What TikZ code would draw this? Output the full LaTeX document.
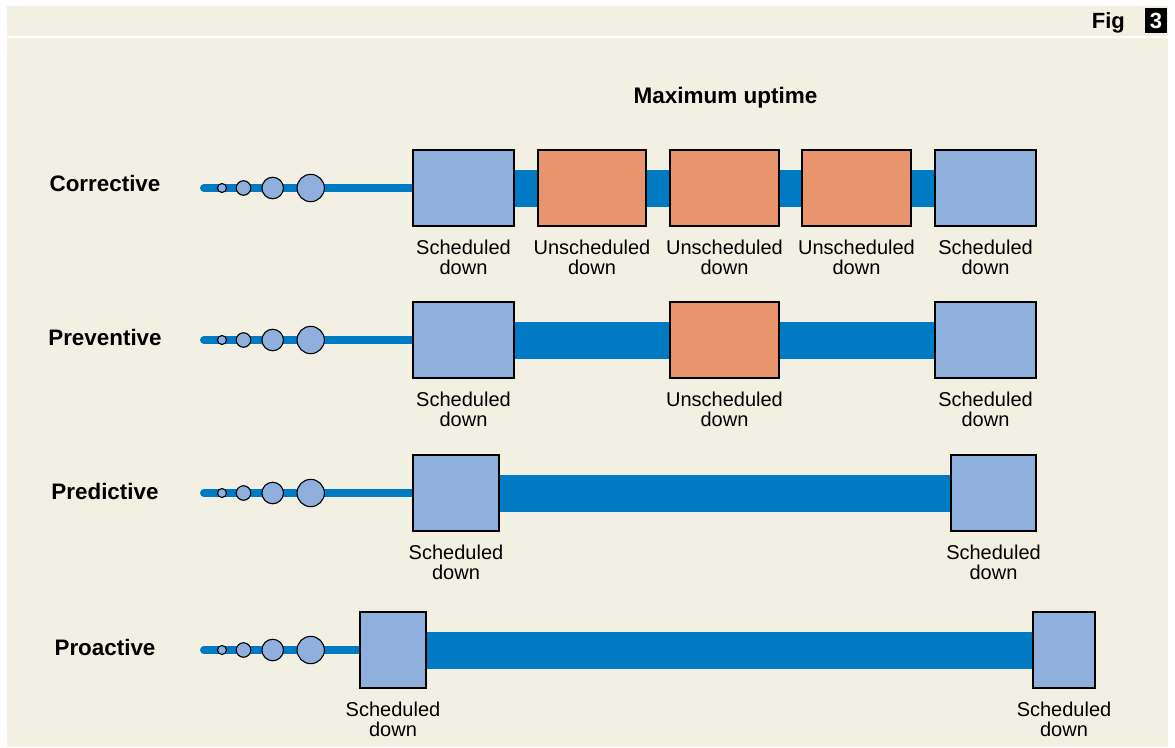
\documentclass[tikz,border=0pt]{standalone}
\usepackage{fontspec}
\setmainfont{Liberation Sans}
\pgfdeclarelayer{back}
\pgfdeclarelayer{bg}
\pgfsetlayers{back,bg,main}
\definecolor{cream}{HTML}{F2EFE3}
\definecolor{barblue}{HTML}{007AC3}
\definecolor{boxblue}{HTML}{8FAFDC}
\definecolor{boxorange}{HTML}{E8956E}
\tikzset{
  sched/.style={draw=black, line width=1.2pt, fill=boxblue, inner sep=0pt, outer sep=0pt, rectangle},
  unsched/.style={draw=black, line width=1.2pt, fill=boxorange, inner sep=0pt, outer sep=0pt, rectangle},
  bub/.style={circle, draw=black, line width=1.1pt, fill=boxblue, inner sep=0pt},
  thinbar/.style={draw=barblue, line width=8pt, line cap=round},
  thickbar/.style={draw=barblue, line width=37pt, line cap=butt},
  lbl/.style={font=\fontsize{20}{20}\selectfont, align=center, anchor=north, inner sep=0pt, text=black},
  rowlbl/.style={font=\bfseries\fontsize{22.4}{24}\selectfont, anchor=base, inner sep=0pt},
}
\newcommand\downbox[6]{%
  \node[#2, minimum width={#4-#3}, minimum height=76] (#1) at ({(#3+#4)/2},#5) {};
  \node[lbl] (#1l) at ([yshift=-14pt]#1.south) {#6};
}
\newcommand\bubbles[2]{%
  \coordinate (#1s) at (204,#2);
  \node[bub, minimum size=9] (#1b1) at (222,#2) {};
  \node[bub, minimum size=14.5] (#1b2) at (243.5,#2) {};
  \node[bub, minimum size=21.5] (#1b3) at (272.7,#2) {};
  \node[bub, minimum size=27.3] (#1b4) at (310.7,#2) {};
}
\begin{document}
\begin{tikzpicture}[x=1pt,y=-1pt]
\useasboundingbox (0,0) rectangle (1175,747);
\begin{pgfonlayer}{back}
  \fill[white] (0,0) rectangle (1175,747);
  \fill[cream] (7,6) rectangle (1168,747);
  \draw[white, line width=2pt] (7,37) -- (1168,37);
\end{pgfonlayer}
% header
\node[font=\bfseries\fontsize{22}{24}\selectfont, anchor=base east, inner sep=0pt] (fig) at (1125,28.5) {Fig};
\node[fill=black, minimum width=22, minimum height=25, inner sep=0pt, text=white, font=\bfseries\fontsize{22}{24}\selectfont] (fignum) at (1156,20.5) {3};
\node[font=\bfseries\fontsize{22.5}{24}\selectfont, anchor=base, inner sep=0pt] (title) at (725.5,103.5) {Maximum uptime};

% Row 1: Corrective
\node[rowlbl] (l1) at (105,191.5) {Corrective};
\bubbles{r1}{188}
\downbox{r1a}{sched}{413}{514}{188}{Scheduled\\down}
\downbox{r1b}{unsched}{538}{646}{188}{Unscheduled\\down}
\downbox{r1c}{unsched}{670}{779}{188}{Unscheduled\\down}
\downbox{r1d}{unsched}{802}{911}{188}{Unscheduled\\down}
\downbox{r1e}{sched}{935}{1036}{188}{Scheduled\\down}
\begin{pgfonlayer}{bg}
  \draw[thinbar] (r1s) -- (r1a.west);
  \draw[thickbar] (r1a.east) -- (r1b.west);
  \draw[thickbar] (r1b.east) -- (r1c.west);
  \draw[thickbar] (r1c.east) -- (r1d.west);
  \draw[thickbar] (r1d.east) -- (r1e.west);
\end{pgfonlayer}

% Row 2: Preventive
\node[rowlbl] (l2) at (105,345.5) {Preventive};
\bubbles{r2}{340}
\downbox{r2a}{sched}{413}{514}{340}{Scheduled\\down}
\downbox{r2b}{unsched}{670}{779}{340}{Unscheduled\\down}
\downbox{r2c}{sched}{935}{1036}{340}{Scheduled\\down}
\begin{pgfonlayer}{bg}
  \draw[thinbar] (r2s) -- (r2a.west);
  \draw[thickbar] (r2a.east) -- (r2b.west);
  \draw[thickbar] (r2b.east) -- (r2c.west);
\end{pgfonlayer}

% Row 3: Predictive
\node[rowlbl] (l3) at (105,499.5) {Predictive};
\bubbles{r3}{493}
\downbox{r3a}{sched}{413}{499}{493}{Scheduled\\down}
\downbox{r3b}{sched}{951}{1036}{493}{Scheduled\\down}
\begin{pgfonlayer}{bg}
  \draw[thinbar] (r3s) -- (r3a.west);
  \draw[thickbar] (r3a.east) -- (r3b.west);
\end{pgfonlayer}

% Row 4: Proactive
\node[rowlbl] (l4) at (105,655) {Proactive};
\bubbles{r4}{650}
\downbox{r4a}{sched}{360}{426}{650}{Scheduled\\down}
\downbox{r4b}{sched}{1033}{1095}{650}{Scheduled\\down}
\begin{pgfonlayer}{bg}
  \draw[thinbar] (r4s) -- (r4a.west);
  \draw[thickbar] (r4a.east) -- (r4b.west);
\end{pgfonlayer}
\end{tikzpicture}
\end{document}
